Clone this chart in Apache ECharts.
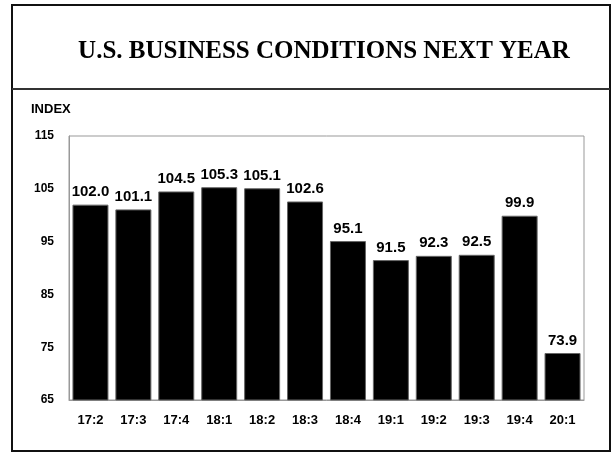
<!DOCTYPE html>
<html>
<head>
<meta charset="utf-8">
<style>
  html, body { margin: 0; padding: 0; background: #fff; }
  #chart { width: 611px; height: 454px; }
</style>
<script src="https://cdn.jsdelivr.net/npm/echarts@6/dist/echarts.min.js"></script>
</head>
<body>
<div id="chart"></div>
<script>
// Quarterly index of expected business conditions
const quarters = ['17:2', '17:3', '17:4', '18:1', '18:2', '18:3', '18:4', '19:1', '19:2', '19:3', '19:4', '20:1'];
const indexValues = [102.0, 101.1, 104.5, 105.3, 105.1, 102.6, 95.1, 91.5, 92.3, 92.5, 99.9, 73.9];
const yTicks = [65, 75, 85, 95, 105, 115];

const titleText = 'U.S. BUSINESS CONDITIONS NEXT YEAR';
const axisTitle = 'INDEX';

const labelFont = '"Liberation Sans", Arial, Helvetica, sans-serif';

const chart = echarts.init(document.getElementById('chart'), null, { renderer: 'canvas' });

chart.setOption({
  animation: false,
  backgroundColor: '#ffffff',
  grid: {
    left: 69, top: 136, right: 27, bottom: 54,
    show: true, borderColor: '#999', borderWidth: 1, backgroundColor: 'transparent'
  },
  xAxis: {
    type: 'category',
    data: quarters,
    axisLine: { show: true, lineStyle: { color: '#999', width: 1 } },
    axisTick: { show: false },
    axisLabel: {
      margin: 14,
      color: '#000',
      fontFamily: labelFont,
      fontWeight: 'bold',
      fontSize: 13
    }
  },
  yAxis: {
    type: 'value',
    min: yTicks[0],
    max: yTicks[yTicks.length - 1],
    axisLine: { show: true, lineStyle: { color: '#999', width: 1 } },
    axisTick: { show: false },
    splitLine: { show: false },
    axisLabel: {
      customValues: yTicks,
      margin: 15,
      color: '#000',
      fontFamily: labelFont,
      fontWeight: 'bold',
      fontSize: 12
    }
  },
  series: [{
    type: 'bar',
    data: indexValues,
    barWidth: 36,
    itemStyle: { color: '#000', borderColor: '#666', borderWidth: 1 },
    label: {
      show: true,
      position: 'top',
      distance: 5,
      color: '#000',
      fontFamily: labelFont,
      fontWeight: 'bold',
      fontSize: 15,
      formatter: p => p.value.toFixed(1)
    }
  }],
  graphic: [
    // outer frame
    {
      type: 'rect',
      shape: { x: 12, y: 5, width: 598, height: 446 },
      style: { fill: 'none', stroke: '#111', lineWidth: 2 },
      silent: true
    },
    // rule under the heading
    {
      type: 'line',
      shape: { x1: 12, y1: 89, x2: 610, y2: 89 },
      style: { stroke: '#333', lineWidth: 2 },
      silent: true
    },
    {
      type: 'text',
      x: 324, y: 52,
      style: {
        text: titleText,
        fill: '#000',
        font: 'bold 25px "Liberation Serif", "Times New Roman", serif',
        align: 'center',
        verticalAlign: 'middle'
      },
      silent: true
    },
    {
      type: 'text',
      x: 31, y: 109,
      style: {
        text: axisTitle,
        fill: '#000',
        font: 'bold 13px ' + labelFont,
        align: 'left',
        verticalAlign: 'middle'
      },
      silent: true
    }
  ]
});
</script>
</body>
</html>
